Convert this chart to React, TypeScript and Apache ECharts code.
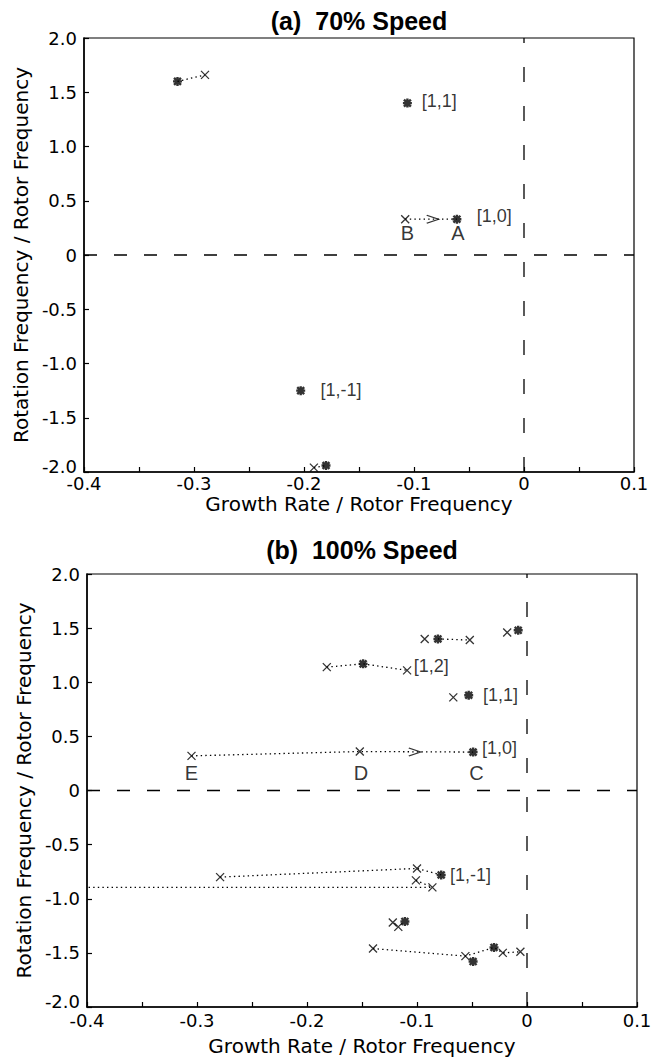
import React, { useEffect, useRef } from "react";
import * as echarts from "echarts";

// ---- axes ----
const xTickValues = [-0.4, -0.3, -0.2, -0.1, 0, 0.1];
const xTickLabels = ["-0.4", "-0.3", "-0.2", "-0.1", "0", "0.1"];
const yTickValues = [-2, -1.5, -1, -0.5, 0, 0.5, 1, 1.5, 2];
const yTickLabels = ["-2.0", "-1.5", "-1.0", "-0.5", "0", "0.5", "1.0", "1.5", "2.0"];
const xRange = [-0.4, 0.1];
const yRange = [-2, 2];

const panelTitles = ["(a)  70% Speed", "(b)  100% Speed"];
const xName = "Growth Rate / Rotor Frequency";
const yName = "Rotation Frequency / Rotor Frequency";

// ---- (a) 70% speed ----
const aCross = [
  [-0.29, 1.66],
  [-0.108, 0.33],
  [-0.191, -1.96],
];
const aStar = [
  [-0.315, 1.6],
  [-0.106, 1.4],
  [-0.061, 0.33],
  [-0.203, -1.25],
  [-0.18, -1.94],
];
const aLinks = [
  [[-0.315, 1.6], [-0.29, 1.66]],
  [[-0.108, 0.33], [-0.061, 0.33]],
  [[-0.191, -1.96], [-0.18, -1.94]],
];
const aArrows = [[-0.083, 0.33]];
const aModeLabels = [
  { text: "[1,1]", x: -0.093, y: 1.42 },
  { text: "[1,0]", x: -0.043, y: 0.36 },
  { text: "[1,-1]", x: -0.185, y: -1.24 },
];
const aPointLetters = [
  { text: "B", x: -0.106, y: 0.2 },
  { text: "A", x: -0.06, y: 0.2 },
];

// ---- (b) 100% speed ----
const bCross = [
  [-0.093, 1.4],
  [-0.052, 1.39],
  [-0.182, 1.14],
  [-0.109, 1.11],
  [-0.018, 1.46],
  [-0.067, 0.86],
  [-0.305, 0.32],
  [-0.152, 0.36],
  [-0.279, -0.8],
  [-0.1, -0.72],
  [-0.101, -0.83],
  [-0.086, -0.895],
  [-0.122, -1.22],
  [-0.117, -1.26],
  [-0.14, -1.46],
  [-0.056, -1.53],
  [-0.022, -1.5],
  [-0.006, -1.49],
];
const bStar = [
  [-0.081, 1.4],
  [-0.149, 1.17],
  [-0.008, 1.48],
  [-0.053, 0.88],
  [-0.049, 0.355],
  [-0.078, -0.78],
  [-0.111, -1.21],
  [-0.049, -1.58],
  [-0.03, -1.45],
];
const bLinks = [
  [[-0.081, 1.4], [-0.052, 1.39]],
  [[-0.182, 1.14], [-0.149, 1.17], [-0.109, 1.11]],
  [[-0.305, 0.32], [-0.152, 0.36], [-0.049, 0.355]],
  [[-0.279, -0.8], [-0.1, -0.72], [-0.078, -0.78]],
  [[-0.478, -0.895], [-0.086, -0.895]],
  [[-0.101, -0.83], [-0.086, -0.895]],
  [[-0.14, -1.46], [-0.056, -1.53], [-0.03, -1.45], [-0.022, -1.5], [-0.006, -1.49]],
];
const bArrows = [[-0.102, 0.355]];
const bModeLabels = [
  { text: "[1,2]", x: -0.103, y: 1.15 },
  { text: "[1,1]", x: -0.04, y: 0.88 },
  { text: "[1,0]", x: -0.041, y: 0.39 },
  { text: "[1,-1]", x: -0.07, y: -0.78 },
];
const bPointLetters = [
  { text: "E", x: -0.305, y: 0.16 },
  { text: "D", x: -0.151, y: 0.16 },
  { text: "C", x: -0.046, y: 0.16 },
];

const CROSS = "path://M0,0L10,10M10,0L0,10";
const STAR = "path://M0,0L10,10M10,0L0,10M5,-1.5L5,11.5M-1.5,5L11.5,5";
const ARROW = "path://M0,0L10,5L0,10";

function fmtX(v: number) {
  const i = xTickValues.findIndex((t) => Math.abs(t - v) < 1e-6);
  return i >= 0 ? xTickLabels[i] : "";
}
function fmtY(v: number) {
  const i = yTickValues.findIndex((t) => Math.abs(t - v) < 1e-6);
  if (i < 0) return "";
  return i === 0 ? "{lo|" + yTickLabels[i] + "}" : yTickLabels[i];
}

function panelSeries(
  i: number,
  cross: number[][],
  star: number[][],
  links: number[][][],
  arrows: number[][],
  modeLabels: { text: string; x: number; y: number }[],
  letters: { text: string; x: number; y: number }[]
) {
  const base = { xAxisIndex: i, yAxisIndex: i };
  const s: any[] = [];
  s.push({
    ...base,
    type: "line",
    data: [[xRange[0], 0], [xRange[1], 0]],
    symbol: "none",
    lineStyle: { color: "#000", width: 1.3, type: [13, 17] },
    z: 1,
  });
  s.push({
    ...base,
    type: "line",
    data: [[0, yRange[0]], [0, yRange[1]]],
    symbol: "none",
    lineStyle: { color: "#000", width: 1.3, type: [15, 24] },
    z: 1,
  });
  links.forEach((l) =>
    s.push({
      ...base,
      type: "line",
      data: l,
      symbol: "none",
      clip: false,
      lineStyle: { color: "#000", width: 1.3, type: [1.4, 3.2] },
      z: 2,
    })
  );
  s.push({
    ...base,
    type: "scatter",
    data: cross,
    symbol: CROSS,
    symbolSize: 8,
    itemStyle: { color: "transparent", borderColor: "#000", borderWidth: 1.3 },
    z: 3,
  });
  s.push({
    ...base,
    type: "scatter",
    data: star,
    symbol: STAR,
    symbolSize: 9,
    itemStyle: { color: "transparent", borderColor: "#000", borderWidth: 2.4 },
    z: 3,
  });
  s.push({
    ...base,
    type: "scatter",
    data: arrows,
    symbol: ARROW,
    symbolSize: [12, 8],
    itemStyle: { color: "transparent", borderColor: "#000", borderWidth: 1.3 },
    z: 3,
  });
  s.push({
    ...base,
    type: "scatter",
    data: modeLabels.map((l) => ({ value: [l.x, l.y], name: l.text })),
    symbolSize: 1,
    itemStyle: { color: "transparent" },
    label: {
      show: true,
      position: "inside",
      formatter: "{b}",
      align: "left",
      verticalAlign: "middle",
      color: "#000",
      fontFamily: "Liberation Sans",
      fontSize: 18,
    },
    z: 4,
  });
  s.push({
    ...base,
    type: "scatter",
    data: letters.map((l) => ({ value: [l.x, l.y], name: l.text })),
    symbolSize: 1,
    itemStyle: { color: "transparent" },
    label: {
      show: true,
      position: "inside",
      formatter: "{b}",
      align: "center",
      verticalAlign: "middle",
      color: "#000",
      fontFamily: "Liberation Sans",
      fontSize: 20,
    },
    z: 4,
  });
  return s;
}

const grids = [
  { left: 84, top: 38, width: 550, height: 434 },
  { left: 87, top: 574, width: 550, height: 433 },
];
const xLabelMargins = [3, 5];
const xNameGaps = [19, 28];
const titleAnchors = [
  [359, 21],
  [362, 550],
];

export default function App() {
  const ref = useRef<HTMLDivElement>(null);
  useEffect(() => {
    document.body.style.margin = "0";
    const chart = echarts.init(ref.current!, undefined, { renderer: "svg" });
    const axisFont = { fontFamily: "DejaVu Sans", fontSize: 18, color: "#000", lineHeight: 16 };
    const xAxes = grids.map((_, i) => ({
      type: "value",
      gridIndex: i,
      min: xRange[0],
      max: xRange[1],
      interval: 0.05,
      axisLine: { onZero: false, lineStyle: { color: "#000", width: 1.5 } },
      axisTick: { inside: true, length: 5, lineStyle: { color: "#000", width: 1.2 } },
      splitLine: { show: false },
      axisLabel: { ...axisFont, margin: xLabelMargins[i], formatter: fmtX },
      name: xName,
      nameLocation: "middle",
      nameGap: xNameGaps[i],
      nameTextStyle: { fontFamily: "DejaVu Sans", fontSize: 20, color: "#000", lineHeight: 22 },
    }));
    const yAxes = grids.map((_, i) => ({
      type: "value",
      gridIndex: i,
      min: yRange[0],
      max: yRange[1],
      interval: 0.5,
      axisLine: { onZero: false, lineStyle: { color: "#000", width: 1.5 } },
      axisTick: { inside: true, length: 5, lineStyle: { color: "#000", width: 1.2 } },
      splitLine: { show: false },
      axisLabel: {
        ...axisFont,
        margin: 7,
        formatter: fmtY,
        rich: {
          lo: {
            fontFamily: "DejaVu Sans",
            fontSize: 18,
            color: "#000",
            lineHeight: 16,
            padding: [0, 0, 12, 0],
          },
        },
      },
      name: yName,
      nameLocation: "middle",
      nameGap: 52,
      nameTextStyle: { fontFamily: "DejaVu Sans", fontSize: 20, color: "#000" },
    }));
    chart.setOption({
      animation: false,
      backgroundColor: "#fff",
      grid: grids.map((g) => ({ ...g, show: true, borderColor: "#000", borderWidth: 1.2 })),
      xAxis: xAxes,
      yAxis: yAxes,
      graphic: panelTitles.map((t, i) => ({
        type: "text",
        x: titleAnchors[i][0],
        y: titleAnchors[i][1],
        style: {
          text: t,
          fontFamily: "Liberation Sans",
          fontWeight: "bold",
          fontSize: 25,
          fill: "#000",
          textAlign: "center",
          textVerticalAlign: "middle",
        },
      })),
      series: [
        ...panelSeries(0, aCross, aStar, aLinks, aArrows, aModeLabels, aPointLetters),
        ...panelSeries(1, bCross, bStar, bLinks, bArrows, bModeLabels, bPointLetters),
      ],
    });
    return () => chart.dispose();
  }, []);
  return <div ref={ref} style={{ width: 657, height: 1061 }} />;
}
